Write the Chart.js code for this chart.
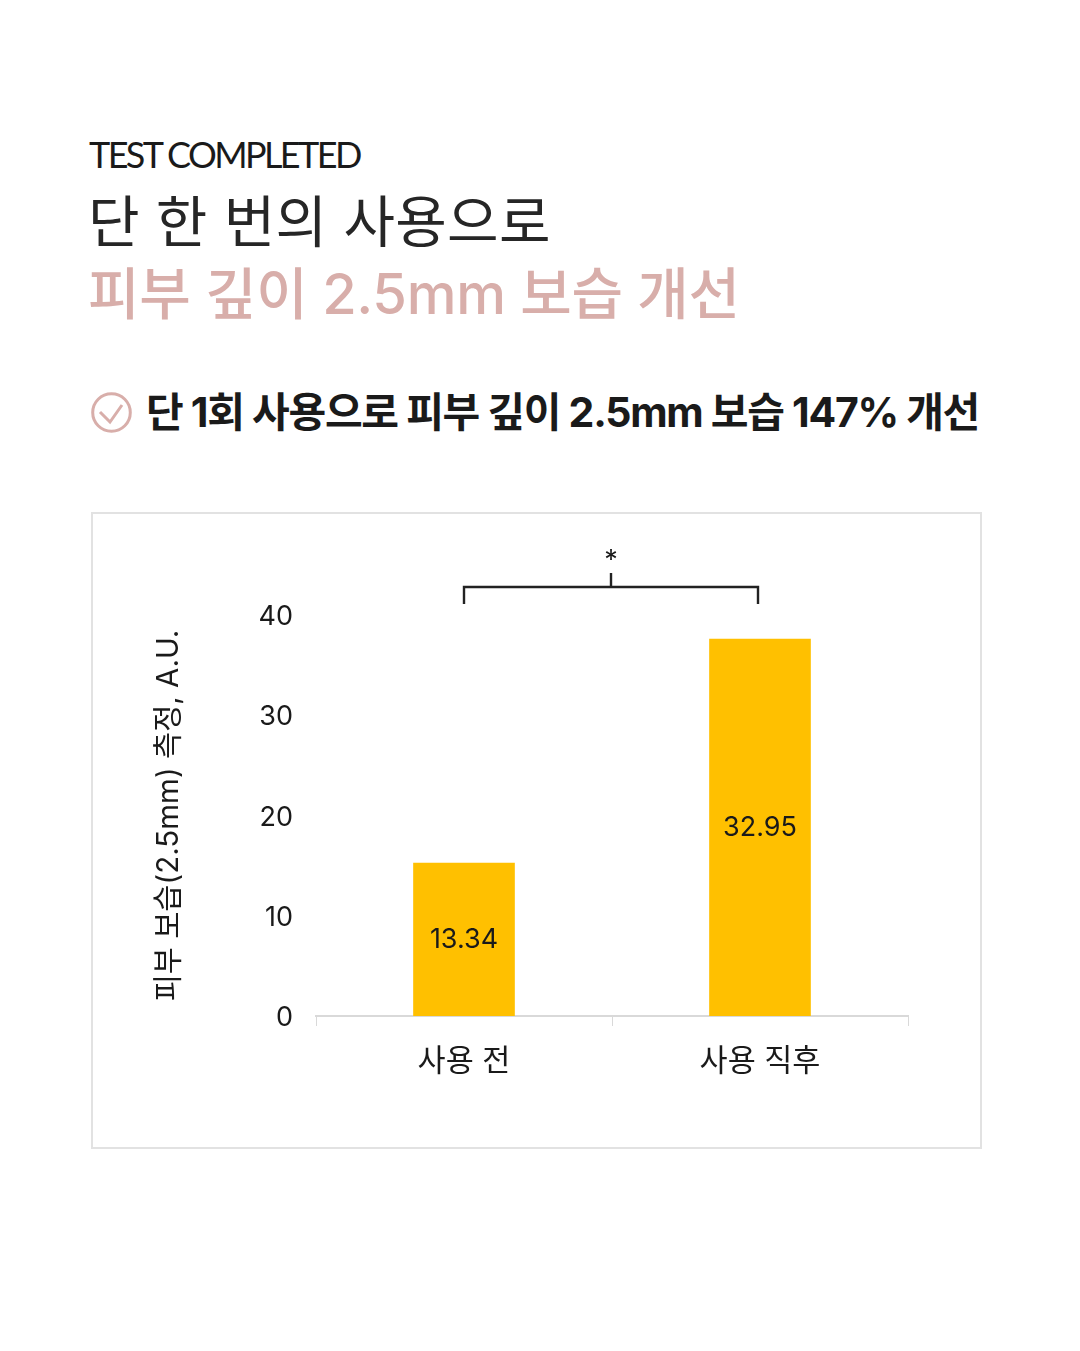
<!DOCTYPE html>
<html lang="ko">
<head>
  <meta charset="UTF-8" />
  <title>TEST COMPLETED</title>
  <script src="https://cdn.jsdelivr.net/npm/chart.js"></script>
  <style>
    html, body {
      margin: 0;
      background: #ffffff;
    }
    body {
      position: relative;
      width: 1080px;
      height: 1351px;
      overflow: hidden;
      font-family: Inter, "Noto Sans CJK KR", sans-serif;
      color: #1a1a1a;
    }
    .txt {
      position: absolute;
      left: 88px;
      white-space: nowrap;
      line-height: 1;
    }
    #eyebrow {
      left: 89px;
      top: 136px;
      font-family: Lato, sans-serif;
      font-size: 36px;
      letter-spacing: -2.6px;
    }
    #title1 {
      top: 194px;
      font-size: 56px;
      font-weight: 400;
      letter-spacing: 0.3px;
      color: #262626;
    }
    #title2 {
      top: 266px;
      font-size: 56px;
      font-weight: 500;
      letter-spacing: -0.3px;
      color: #d8aeaa;
    }
    #claim {
      left: 146px;
      top: 392px;
      font-size: 41px;
      font-weight: 700;
      letter-spacing: -1.3px;
    }
    #check {
      position: absolute;
      left: 90px;
      top: 391px;
    }
    .box {
      position: absolute;
      left: 91px;
      top: 512px;
      width: 887px;
      height: 633px;
      border: 2px solid #e2e2e2;
    }
    canvas {
      position: absolute;
      left: 0;
      top: 0;
    }
  </style>
</head>
<body>
  <div class="txt" id="eyebrow">TEST COMPLETED</div>
  <div class="txt" id="title1">단 한 번의 사용으로</div>
  <div class="txt" id="title2">피부 깊이 2.5mm 보습 개선</div>
  <svg id="check" width="43" height="43" viewBox="0 0 43 43">
    <circle cx="21.5" cy="21.5" r="18.8" fill="none" stroke="#d8aeaa" stroke-width="3" />
    <path d="M10 21 L20 31 L32 14" fill="none" stroke="#d8aeaa" stroke-width="3" />
  </svg>
  <div class="txt" id="claim">단 1회 사용으로 피부 깊이 2.5mm 보습 147% 개선</div>

  <div class="box">
    <canvas id="chart" width="887" height="633"></canvas>
  </div>

  <script>
    const categories = ['사용 전', '사용 직후'];
    // bar heights as drawn against the axis, the printed labels differ from them
    const barHeights = [15.25, 37.6];
    const printedValues = ['13.34', '32.95'];
    const yTicks = [0, 10, 20, 30, 40];
    const yTitle = '피부 보습(2.5mm) 측정, A.U.';

    // significance bracket, heights in axis units
    const bracketTop = 42.8;
    const bracketFoot = 41.1;
    const bracketStem = 44.2;
    const bracketStar = 45.4;
    const bracketLabel = '*';

    const krFont = 'Inter, "Noto Sans CJK KR", sans-serif';

    const annotations = {
      id: 'annotations',
      afterDatasetsDraw(chart) {
        const { ctx, scales } = chart;
        const bars = chart.getDatasetMeta(0).data;

        ctx.save();
        ctx.fillStyle = '#1a1a1a';
        ctx.textAlign = 'center';
        ctx.textBaseline = 'middle';
        ctx.font = '27px ' + krFont;
        bars.forEach((bar, i) => {
          ctx.fillText(printedValues[i], bar.x, (bar.y + bar.base) / 2);
        });

        const x0 = Math.round(scales.x.getPixelForValue(0));
        const x1 = Math.round(scales.x.getPixelForValue(1)) - 2;
        const xm = Math.round((x0 + x1) / 2);
        const yTop = scales.y.getPixelForValue(bracketTop);
        ctx.strokeStyle = '#222222';
        ctx.lineWidth = 2.4;
        ctx.beginPath();
        ctx.moveTo(x0, scales.y.getPixelForValue(bracketFoot));
        ctx.lineTo(x0, yTop);
        ctx.lineTo(x1, yTop);
        ctx.lineTo(x1, scales.y.getPixelForValue(bracketFoot));
        ctx.moveTo(xm, yTop);
        ctx.lineTo(xm, scales.y.getPixelForValue(bracketStem));
        ctx.stroke();

        ctx.font = '27px ' + krFont;
        ctx.fillText(bracketLabel, xm, scales.y.getPixelForValue(bracketStar));
        ctx.restore();
      }
    };

    new Chart(document.getElementById('chart'), {
      type: 'bar',
      data: {
        labels: categories,
        datasets: [{
          data: barHeights,
          backgroundColor: '#ffc000',
          barThickness: 101
        }]
      },
      options: {
        responsive: false,
        animation: false,
        layout: { padding: { top: 101, right: 72, bottom: 0, left: 0 } },
        plugins: {
          legend: { display: false },
          tooltip: { enabled: false }
        },
        scales: {
          x: {
            grid: {
              offset: true,
              drawOnChartArea: false,
              tickLength: 10,
              tickColor: '#d9d9d9',
              tickWidth: 1
            },
            border: { color: '#d9d9d9', width: 2 },
            ticks: {
              color: '#1a1a1a',
              padding: 18,
              font: { family: krFont, size: 30.5 }
            },
            afterFit(scale) { scale.height = 131; }
          },
          y: {
            min: 0,
            max: 40,
            afterBuildTicks(scale) { scale.ticks = yTicks.map(v => ({ value: v })); },
            grid: { display: false },
            border: { display: false },
            ticks: {
              color: '#1a1a1a',
              padding: 15,
              labelOffset: 2,
              font: { family: krFont, size: 27 }
            },
            title: {
              display: true,
              text: yTitle,
              color: '#1a1a1a',
              padding: { top: 58, bottom: 0 },
              font: { family: krFont, size: 29.5 }
            },
            afterFit(scale) { scale.width = 223; }
          }
        }
      },
      plugins: [annotations]
    });
  </script>
</body>
</html>
